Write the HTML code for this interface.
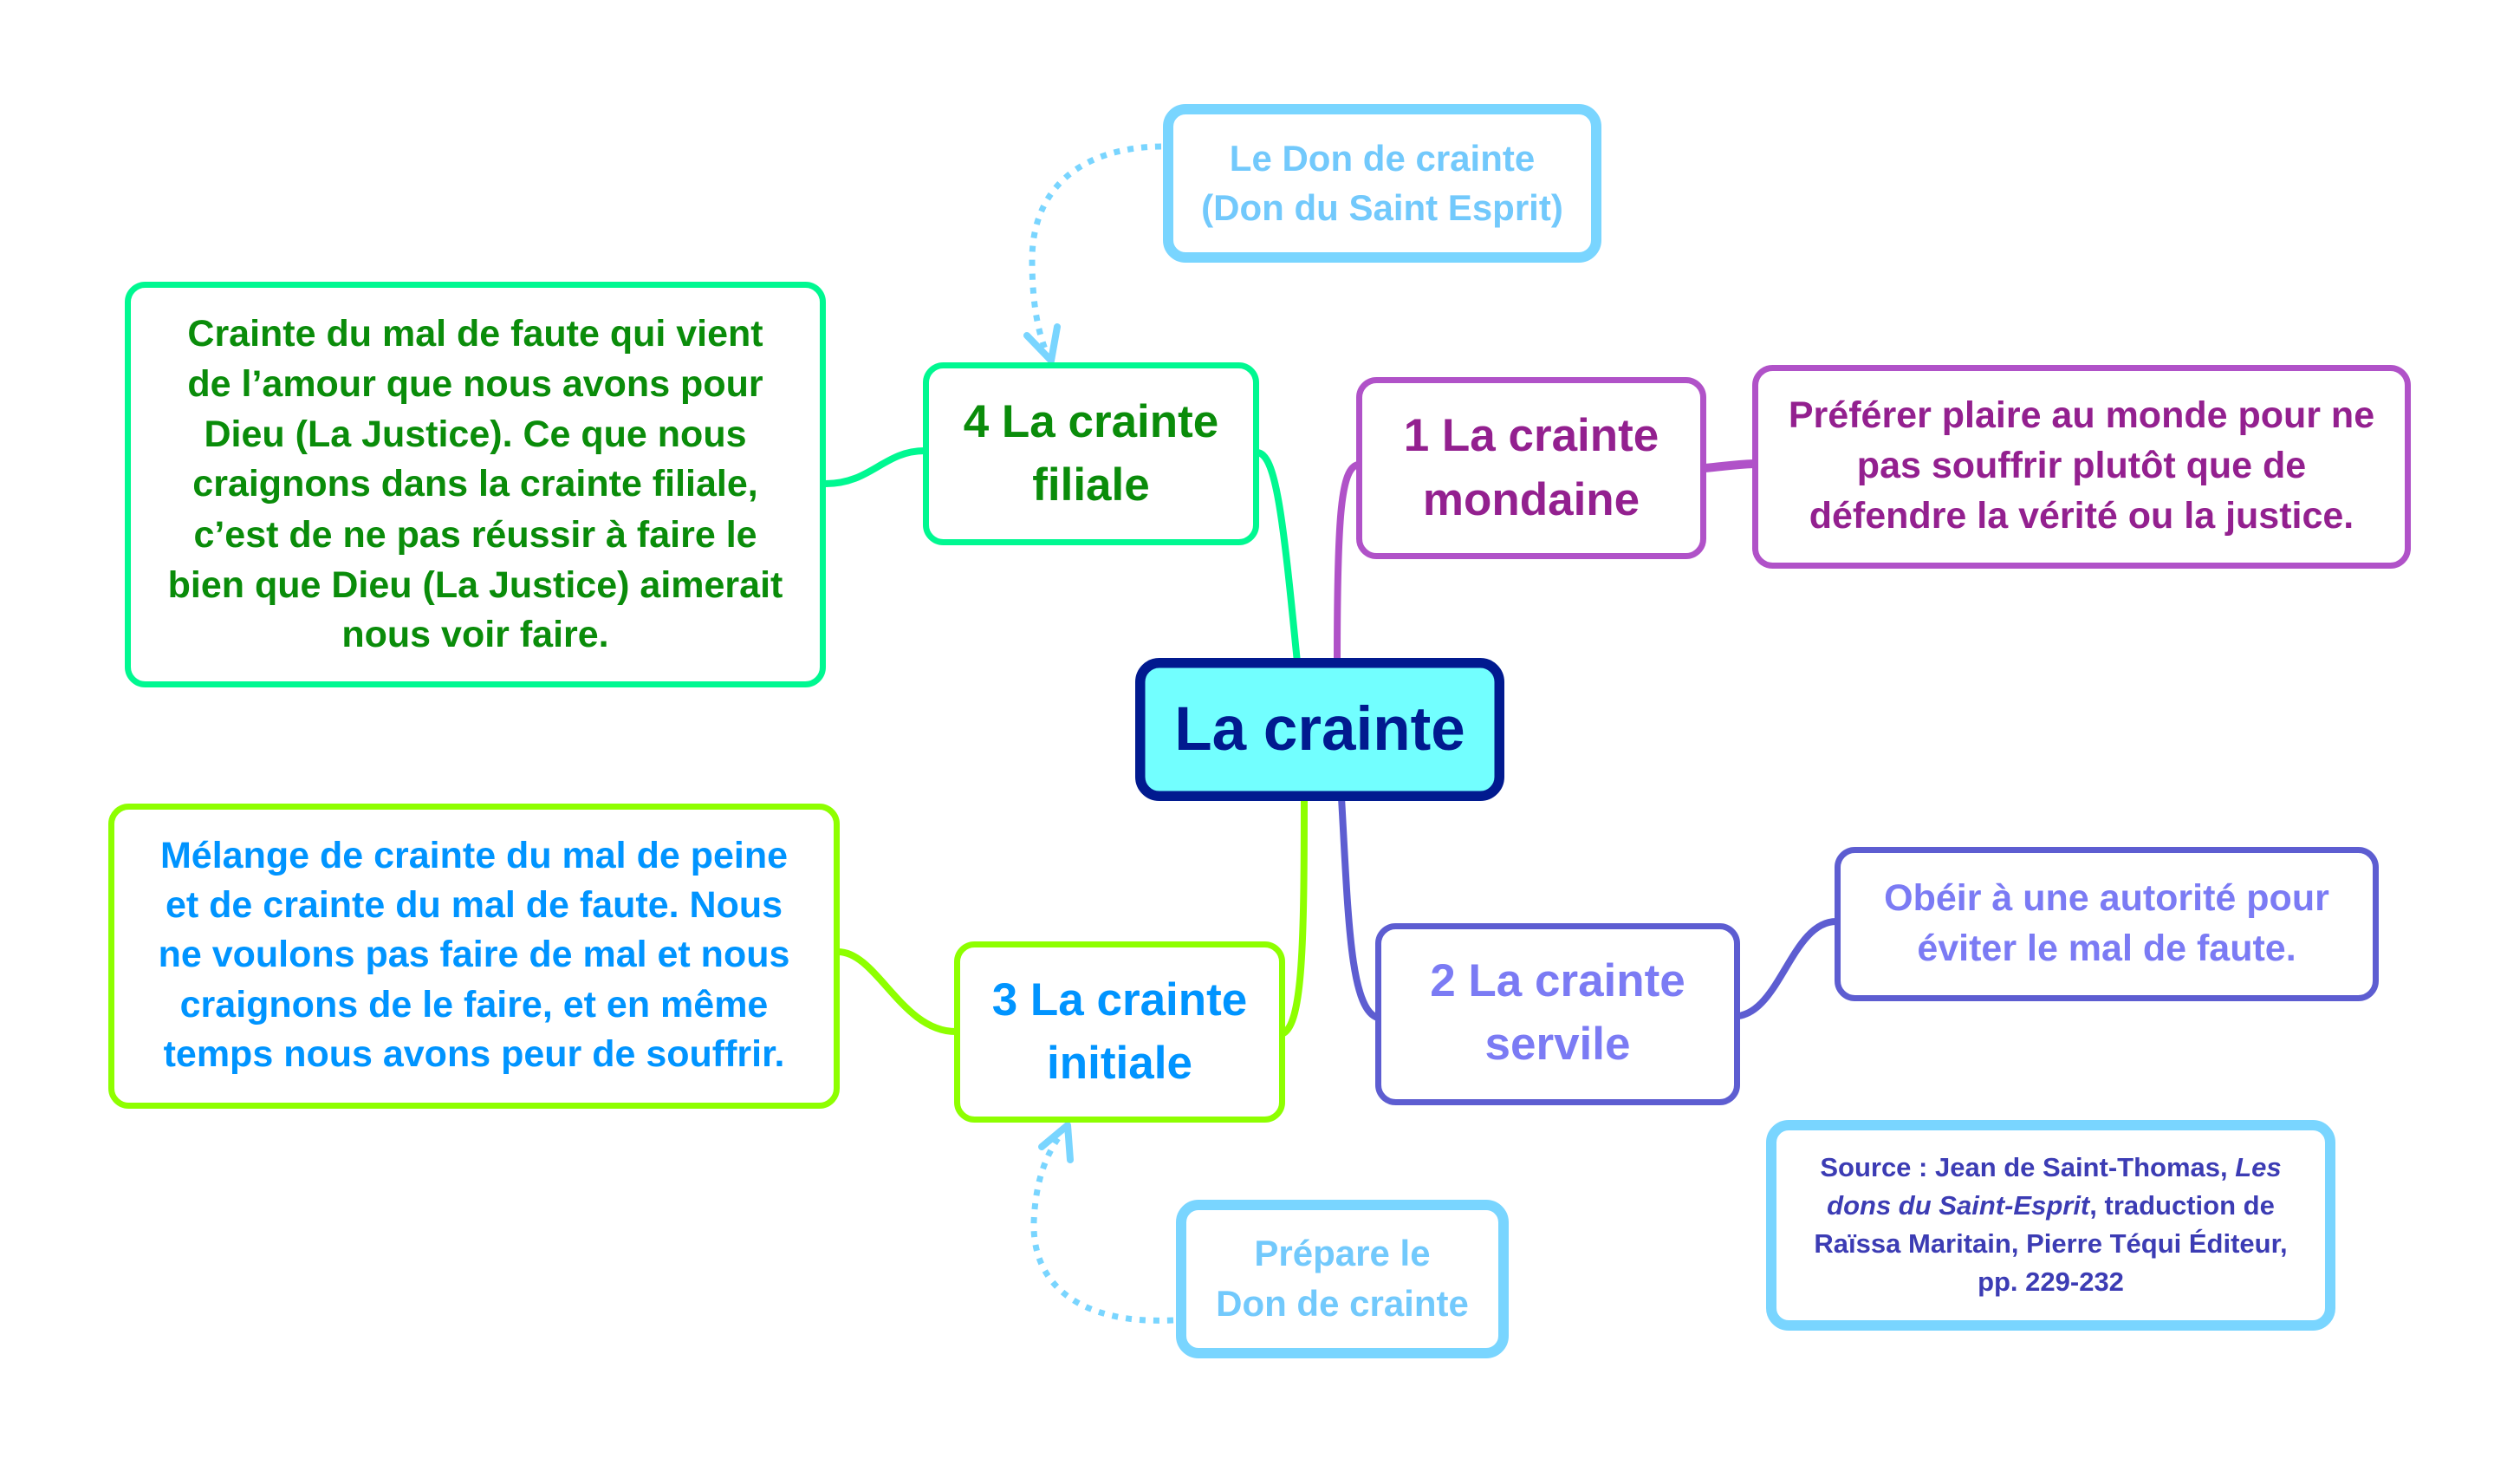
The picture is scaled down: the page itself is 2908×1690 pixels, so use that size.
<!DOCTYPE html>
<html>
<head>
<meta charset="utf-8">
<style>
  html, body { margin:0; padding:0; background:#ffffff; }
  body { width:2908px; height:1690px; overflow:hidden; }
  svg { display:block; }
  text { font-family:"Liberation Sans", Arial, sans-serif; font-weight:bold; }
</style>
</head>
<body>
<svg width="2908" height="1690" viewBox="0 0 2908 1690" xmlns="http://www.w3.org/2000/svg">
  <rect x="0" y="0" width="2908" height="1690" fill="#ffffff"/>

  <!-- ===== Connectors ===== -->
  <g fill="none" stroke-linecap="round" stroke-width="8">
    <!-- filial desc -> filial -->
    <path d="M 953 558 C 1005 558, 1020 520, 1067 520" stroke="#00f891"/>
    <!-- filial -> central -->
    <path d="M 1451 522 C 1472 524, 1480 590, 1497 764" stroke="#00f891"/>
    <!-- mondaine -> central -->
    <path d="M 1567 536 C 1548 540, 1543 590, 1543 764" stroke="#b052c8"/>
    <!-- mondaine -> desc -->
    <path d="M 1967 540 C 1990 538, 2000 536, 2024 535" stroke="#b052c8" stroke-width="10"/>
    <!-- central -> initiale -->
    <path d="M 1505 920 C 1505 1090, 1503 1180, 1481 1192" stroke="#8eff00"/>
    <!-- central -> servile -->
    <path d="M 1548 920 C 1556 1060, 1558 1165, 1590 1174" stroke="#5d5dd1"/>
    <!-- servile -> desc -->
    <path d="M 2006 1172 C 2055 1165, 2068 1063, 2119 1063" stroke="#5d5dd1"/>
    <!-- initiale desc -> initiale -->
    <path d="M 967 1098 C 1012 1098, 1040 1190, 1103 1190" stroke="#8eff00"/>
  </g>

  <!-- Dotted relation arrows -->
  <g fill="none" stroke="#79d5ff" stroke-width="7">
    <path d="M 1340 169 C 1250 170, 1191 215, 1191 300 C 1191 350, 1198 385, 1209 410" stroke-dasharray="7 9"/>
    <path d="M 1354 1523 C 1250 1528, 1191 1485, 1193 1410 C 1195 1360, 1208 1330, 1226 1306" stroke-dasharray="7 9"/>
  </g>
  <g fill="none" stroke="#79d5ff" stroke-width="8" stroke-linecap="round" stroke-linejoin="round">
    <polyline points="1185,387 1213,416 1220,377"/>
    <polyline points="1202,1323 1232,1298 1235,1338"/>
  </g>

  <!-- ===== Boxes ===== -->
  <!-- Le Don de crainte -->
  <rect x="1348" y="126" width="494" height="171" rx="20" fill="#ffffff" stroke="#79d5ff" stroke-width="12"/>
  <g fill="#72c9fc" font-size="42" text-anchor="middle">
    <text x="1595" y="197">Le Don de crainte</text>
    <text x="1595" y="254">(Don du Saint Esprit)</text>
  </g>

  <!-- Filial description -->
  <rect x="147.5" y="328.5" width="802" height="461" rx="20" fill="#ffffff" stroke="#00f891" stroke-width="7"/>
  <g fill="#0a8c0a" font-size="43" text-anchor="middle">
    <text x="548.5" y="399">Crainte du mal de faute qui vient</text>
    <text x="548.5" y="457">de l’amour que nous avons pour</text>
    <text x="548.5" y="515">Dieu (La Justice). Ce que nous</text>
    <text x="548.5" y="572">craignons dans la crainte filiale,</text>
    <text x="548.5" y="631">c’est de ne pas réussir à faire le</text>
    <text x="548.5" y="689">bien que Dieu (La Justice) aimerait</text>
    <text x="548.5" y="746">nous voir faire.</text>
  </g>

  <!-- 4 La crainte filiale -->
  <rect x="1068.5" y="421.5" width="381" height="204" rx="20" fill="#ffffff" stroke="#00f891" stroke-width="7"/>
  <g fill="#0a8c0a" font-size="53" text-anchor="middle">
    <text x="1259" y="504">4 La crainte</text>
    <text x="1259" y="577">filiale</text>
  </g>

  <!-- 1 La crainte mondaine -->
  <rect x="1568.5" y="438.5" width="397" height="203" rx="20" fill="#ffffff" stroke="#b052c8" stroke-width="7"/>
  <g fill="#93208f" font-size="53" text-anchor="middle">
    <text x="1767" y="520">1 La crainte</text>
    <text x="1767" y="594">mondaine</text>
  </g>

  <!-- Mondaine description -->
  <rect x="2025.5" y="424.5" width="753" height="228" rx="20" fill="#ffffff" stroke="#b052c8" stroke-width="7"/>
  <g fill="#93208f" font-size="43" text-anchor="middle">
    <text x="2402" y="493">Préférer plaire au monde pour ne</text>
    <text x="2402" y="551">pas souffrir plutôt que de</text>
    <text x="2402" y="609">défendre la vérité ou la justice.</text>
  </g>

  <!-- Central -->
  <rect x="1315.75" y="764.75" width="414.5" height="153.5" rx="22" fill="#72ffff" stroke="#011a8f" stroke-width="11.5"/>
  <text x="1523" y="865" fill="#011a8f" font-size="71" text-anchor="middle">La crainte</text>

  <!-- Initiale description -->
  <rect x="128.5" y="930.5" width="837" height="345" rx="20" fill="#ffffff" stroke="#8eff00" stroke-width="7"/>
  <g fill="#0094ff" font-size="43" text-anchor="middle">
    <text x="547" y="1001">Mélange de crainte du mal de peine</text>
    <text x="547" y="1058">et de crainte du mal de faute. Nous</text>
    <text x="547" y="1115">ne voulons pas faire de mal et nous</text>
    <text x="547" y="1173">craignons de le faire, et en même</text>
    <text x="547" y="1230">temps nous avons peur de souffrir.</text>
  </g>

  <!-- 3 La crainte initiale -->
  <rect x="1104.5" y="1089.5" width="375" height="202" rx="20" fill="#ffffff" stroke="#8eff00" stroke-width="7"/>
  <g fill="#0094ff" font-size="53" text-anchor="middle">
    <text x="1292" y="1171">3 La crainte</text>
    <text x="1292" y="1244">initiale</text>
  </g>

  <!-- 2 La crainte servile -->
  <rect x="1590.5" y="1068.5" width="414" height="203" rx="20" fill="#ffffff" stroke="#5d5dd1" stroke-width="7"/>
  <g fill="#7b7bf4" font-size="53" text-anchor="middle">
    <text x="1797.5" y="1149">2 La crainte</text>
    <text x="1797.5" y="1222">servile</text>
  </g>

  <!-- Servile description -->
  <rect x="2120.5" y="980.5" width="621" height="171" rx="20" fill="#ffffff" stroke="#5d5dd1" stroke-width="7"/>
  <g fill="#7b7bf4" font-size="43" text-anchor="middle">
    <text x="2431" y="1050">Obéir à une autorité pour</text>
    <text x="2431" y="1108">éviter le mal de faute.</text>
  </g>

  <!-- Source -->
  <rect x="2044" y="1298" width="645" height="231" rx="20" fill="#ffffff" stroke="#79d5ff" stroke-width="12"/>
  <g fill="#3c3cb4" font-size="31" text-anchor="middle">
    <text x="2366.5" y="1357">Source : Jean de Saint-Thomas, <tspan font-style="italic">Les</tspan></text>
    <text x="2366.5" y="1401"><tspan font-style="italic">dons du Saint-Esprit</tspan>, traduction de</text>
    <text x="2366.5" y="1445">Raïssa Maritain, Pierre Téqui Éditeur,</text>
    <text x="2366.5" y="1489">pp. 229-232</text>
  </g>

  <!-- Prépare le Don de crainte -->
  <rect x="1363" y="1390" width="372" height="171" rx="20" fill="#ffffff" stroke="#79d5ff" stroke-width="12"/>
  <g fill="#72c9fc" font-size="42" text-anchor="middle">
    <text x="1549" y="1460">Prépare le</text>
    <text x="1549" y="1518">Don de crainte</text>
  </g>
</svg>
</body>
</html>
